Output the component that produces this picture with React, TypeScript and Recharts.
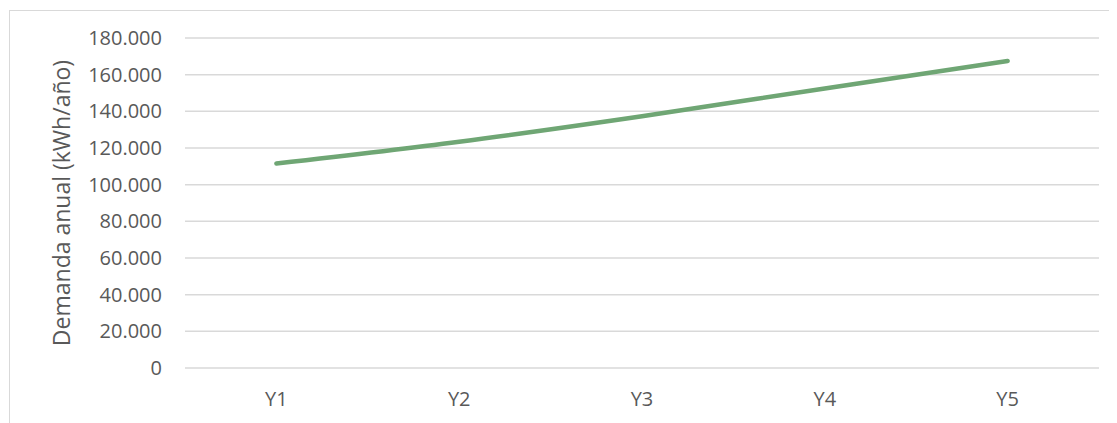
import React from 'react';
import { LineChart, Line, XAxis, YAxis, CartesianGrid, Label } from 'recharts';

const categories = ['Y1', 'Y2', 'Y3', 'Y4', 'Y5'];
const demand = [111500, 123400, 137300, 152500, 167500];
const yTicks = [0, 20000, 40000, 60000, 80000, 100000, 120000, 140000, 160000, 180000];
const yAxisTitle = 'Demanda anual (kWh/año)';

const data = categories.map((c, i) => ({ name: c, value: demand[i] }));

const FONT = '"Open Sans", sans-serif';
const TEXT = '#595959';

const fmt = (v: number) => (v === 0 ? '0' : v.toLocaleString('de-DE'));

const YTitle = (props: any) => {
  const vb = props.viewBox || {};
  const cx = vb.x + 53;
  const cy = vb.y + vb.height / 2;
  return (
    <text
      x={cx}
      y={cy}
      transform={`rotate(-90, ${cx}, ${cy})`}
      textAnchor="middle"
      dominantBaseline="central"
      fill={TEXT}
      style={{ fontFamily: FONT, fontSize: 23 }}
    >
      {yAxisTitle}
    </text>
  );
};

export default function App() {
  return (
    <div style={{ width: 1109, height: 415, position: 'relative', overflow: 'hidden', background: '#fff' }}>
      <div
        style={{
          position: 'absolute',
          left: 1,
          top: 2,
          width: 1200,
          height: 500,
          borderLeft: '1px solid #d9d9d9',
          borderTop: '1px solid #d9d9d9',
        }}
      />
      <div style={{ position: 'absolute', left: 0, top: 0 }}>
        <LineChart width={1109} height={415} data={data} margin={{ top: 30, right: 18, left: 0, bottom: 0 }}>
          <CartesianGrid vertical={false} stroke="#d9d9d9" strokeWidth={1.5} />
          <XAxis
            dataKey="name"
            scale="band"
            height={55}
            axisLine={false}
            tickLine={false}
            tickSize={0}
            tickMargin={24}
            tick={{ fill: TEXT, fontFamily: FONT, fontSize: 20 }}
          />
          <YAxis
            width={177}
            domain={[0, 180000]}
            ticks={yTicks}
            tickFormatter={fmt}
            axisLine={false}
            tickLine={false}
            tickSize={0}
            tickMargin={23}
            tick={{ fill: TEXT, fontFamily: FONT, fontSize: 20 }}
          >
            <Label content={<YTitle />} />
          </YAxis>
          <Line
            type="monotone"
            dataKey="value"
            stroke="#6fa674"
            strokeWidth={4.5}
            strokeLinecap="round"
            dot={false}
            activeDot={false}
            isAnimationActive={false}
          />
        </LineChart>
      </div>
    </div>
  );
}
